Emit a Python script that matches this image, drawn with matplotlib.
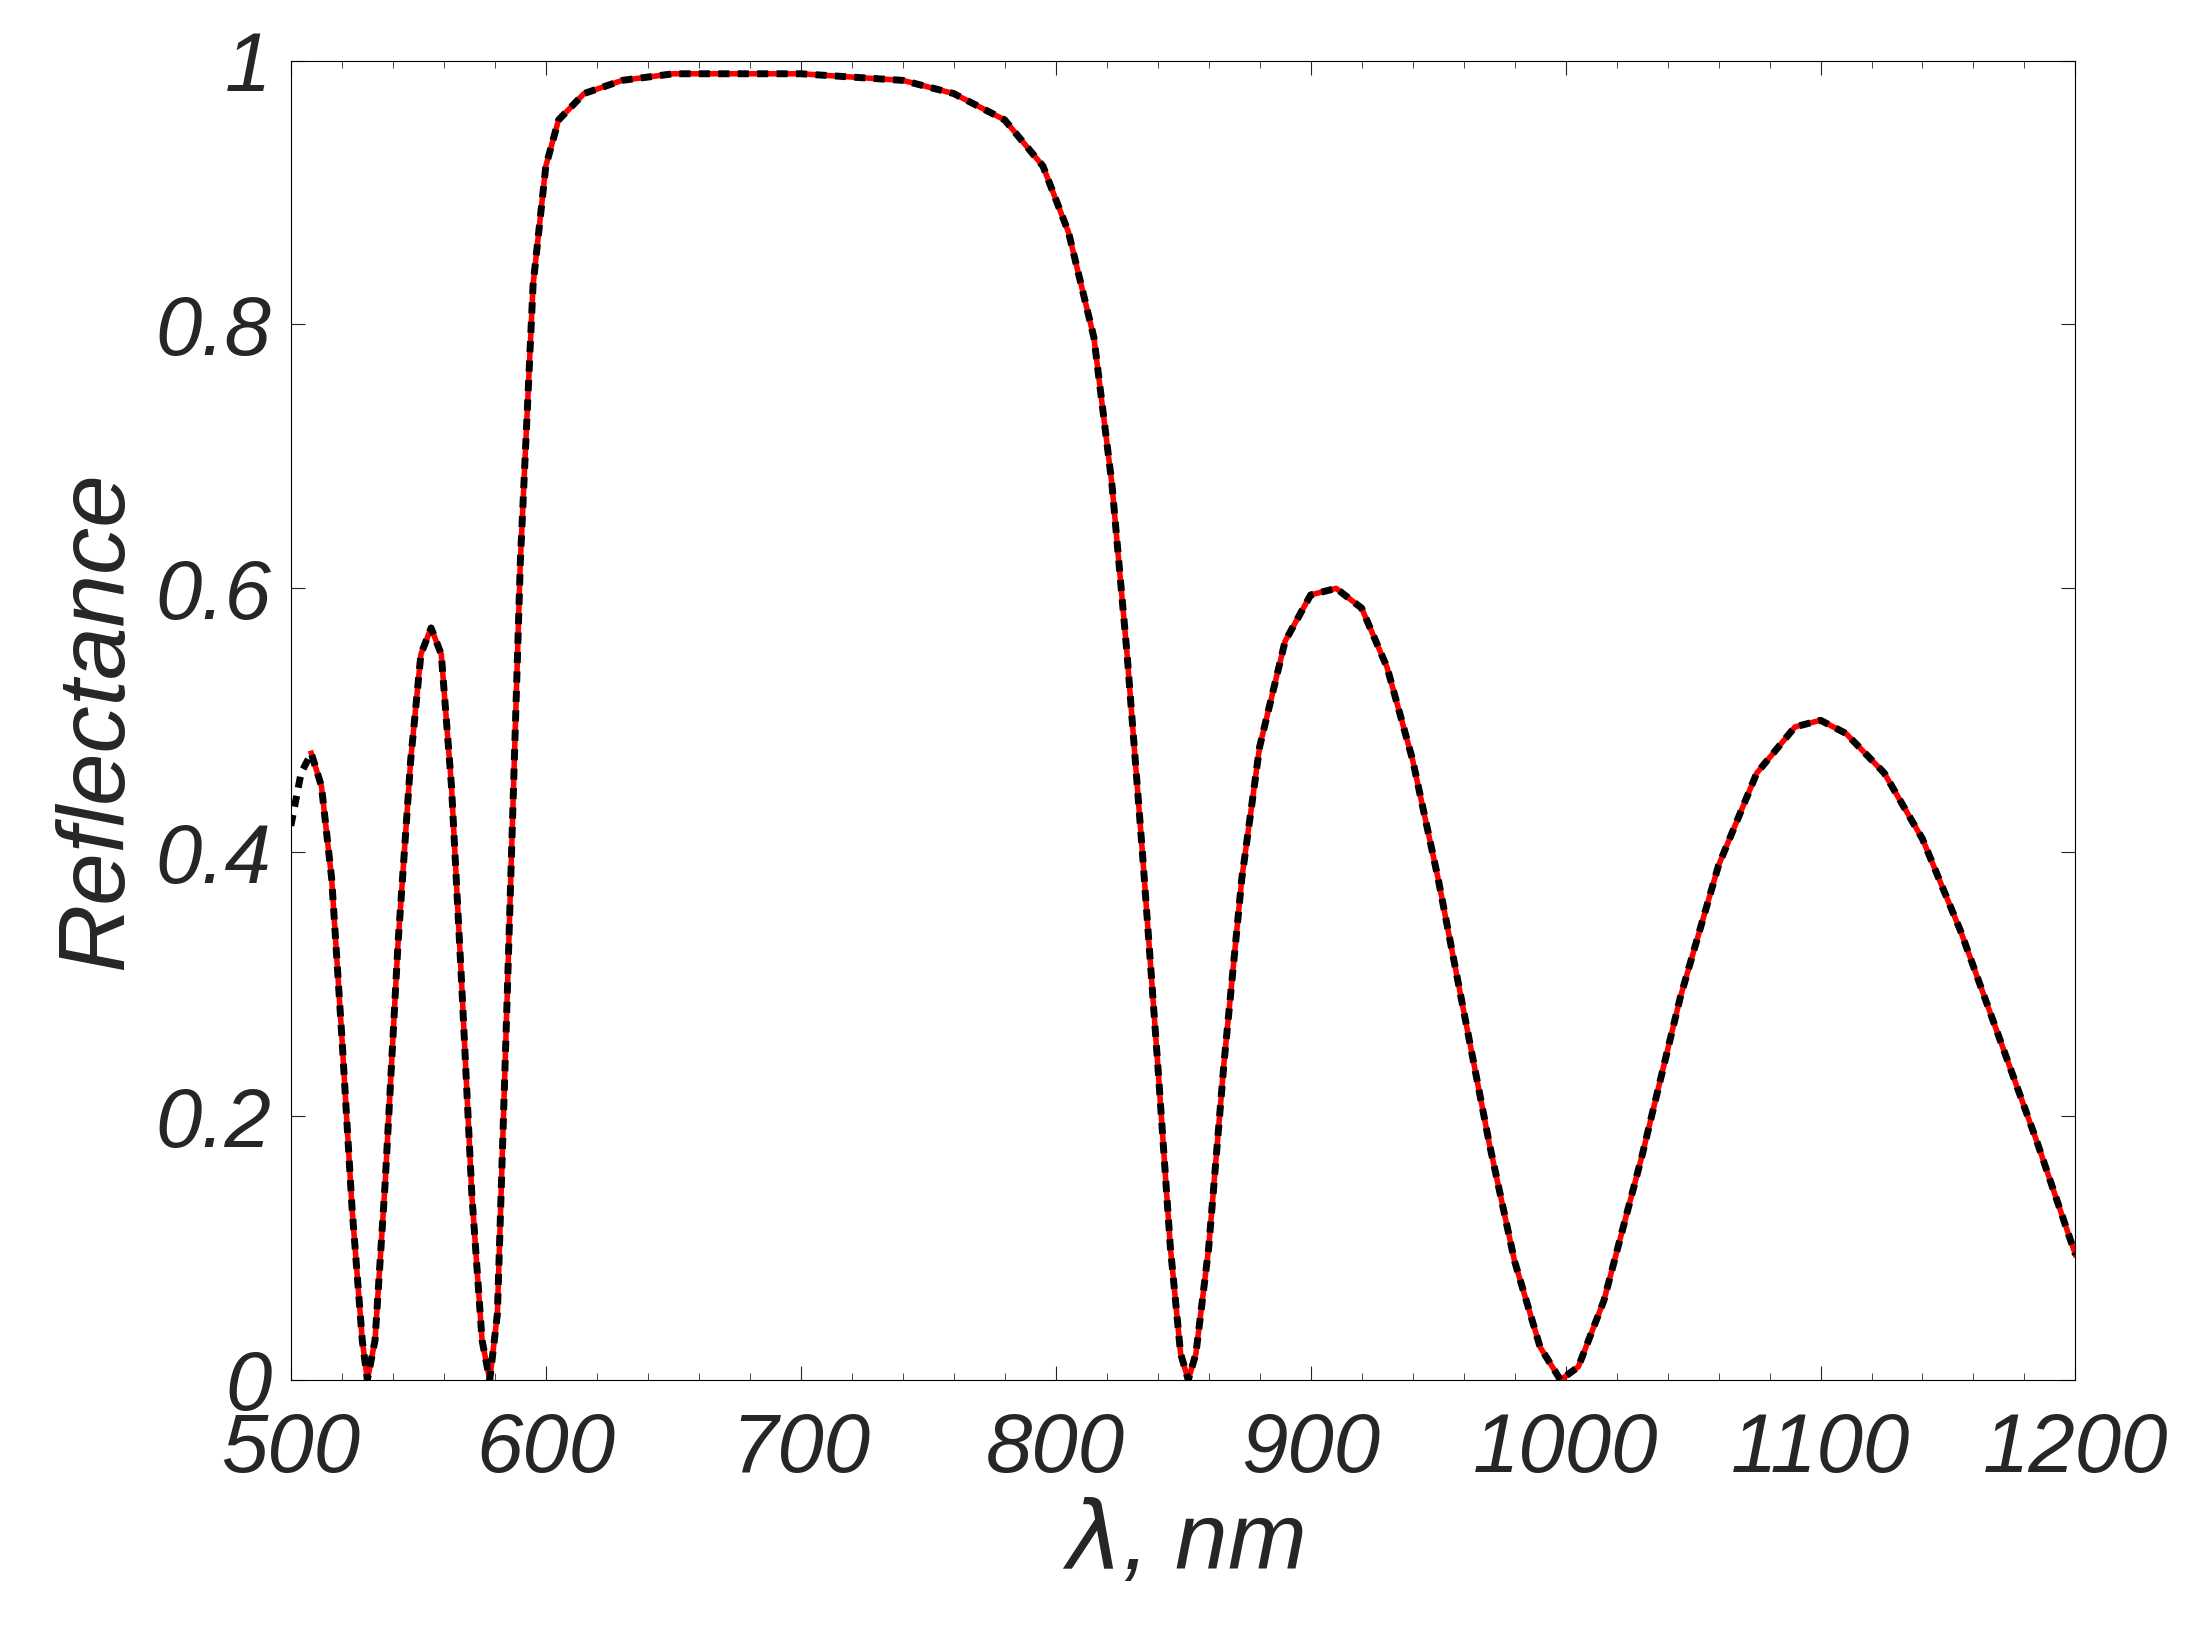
import matplotlib
matplotlib.use("Agg")
import matplotlib.pyplot as plt
from matplotlib.ticker import MultipleLocator

wl = [500,504,508,512,516,520,524,528,530,533,537,542,547,551,555,559,563,567,571,575,578,581,585,590,595,600,605,615,630,650,700,740,760,780,795,805,815,822,828,834,840,845,849,852,855,860,866,873,880,890,900,910,920,930,940,950,960,970,980,990,998,1005,1015,1030,1045,1060,1075,1090,1100,1110,1125,1140,1155,1170,1185,1200]
refl = [0.42,0.46,0.475,0.45,0.38,0.26,0.13,0.03,0.0,0.03,0.15,0.33,0.47,0.55,0.57,0.55,0.45,0.3,0.14,0.03,0.0,0.05,0.3,0.62,0.83,0.92,0.955,0.975,0.985,0.99,0.99,0.985,0.975,0.955,0.92,0.87,0.79,0.68,0.55,0.4,0.24,0.1,0.02,0.0,0.02,0.1,0.24,0.38,0.48,0.56,0.595,0.6,0.585,0.54,0.47,0.38,0.28,0.18,0.09,0.025,0.0,0.01,0.06,0.17,0.29,0.39,0.46,0.495,0.5,0.49,0.46,0.41,0.34,0.26,0.18,0.095]
red_start = 505

wl_red = [w for w in wl if w >= red_start]
refl_red = [r for w, r in zip(wl, refl) if w >= red_start]

plt.rcParams['font.family'] = ['Liberation Sans', 'DejaVu Sans']
fig = plt.figure(figsize=(21.87, 16.37), dpi=100)
ax = fig.add_axes([0.133, 0.157, 0.816, 0.806])
ax.plot(wl_red, refl_red, color='red', lw=4)
ax.plot(wl, refl, color='black', lw=5, ls=(0, (1.6, 1.2)))
ax.set_xlim(500, 1200)
ax.set_ylim(0, 1)
ax.set_xticks(range(500, 1201, 100))
ax.xaxis.set_minor_locator(MultipleLocator(20))
ax.set_yticks([0, 0.2, 0.4, 0.6, 0.8, 1])
ax.set_yticklabels(['0', '0.2', '0.4', '0.6', '0.8', '1'])
ax.tick_params(which='both', direction='in', top=True, right=True, labelsize=60, colors='#262626')
ax.tick_params(axis='x', pad=22)
ax.tick_params(axis='y', pad=14)
ax.tick_params(which='major', length=10)
ax.tick_params(which='minor', length=5)
for l in ax.get_xticklabels() + ax.get_yticklabels():
    l.set_style('italic')
ax.set_xlabel(r'$\lambda$, nm', fontsize=68, style='italic', color='#262626', labelpad=8)
ax.set_ylabel('Reflectance', fontsize=68, style='italic', color='#262626', labelpad=10)
fig.savefig('out.png')
